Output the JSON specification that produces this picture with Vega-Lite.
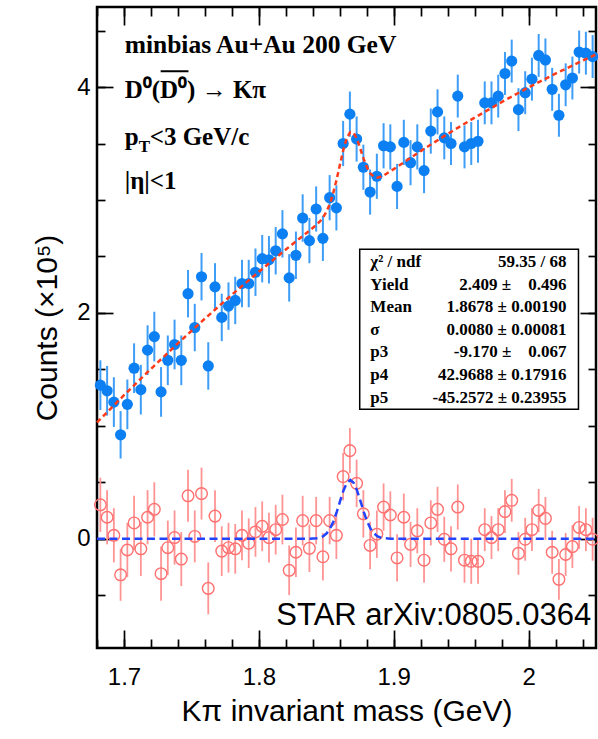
{
  "$schema": "https://vega.github.io/schema/vega-lite/v6.json",
  "width": 499,
  "height": 641,
  "autosize": {"type": "none"},
  "padding": {"left": 97, "top": 7, "right": 2, "bottom": 91},
  "background": "#ffffff",
  "config": {
    "view": {"stroke": "#000000", "strokeWidth": 2.5},
    "axis": {
      "grid": false,
      "domain": false,
      "tickColor": "#000000",
      "tickWidth": 1.7,
      "labelFont": "Liberation Sans",
      "labelFontSize": 24,
      "labelColor": "#000000",
      "labelFlush": false,
      "labelOverlap": false,
      "titleFont": "Liberation Sans",
      "titleFontWeight": "normal",
      "titleFontSize": 30,
      "titleColor": "#000000"
    }
  },
  "datasets": {
    "pts": [
      {"m": 1.6825, "b": 1.36, "eb": 0.22, "r": 0.30, "er": 0.24},
      {"m": 1.6875, "b": 1.31, "eb": 0.22, "r": 0.19, "er": 0.24},
      {"m": 1.6925, "b": 1.21, "eb": 0.22, "r": 0.03, "er": 0.24},
      {"m": 1.6975, "b": 0.92, "eb": 0.21, "r": -0.32, "er": 0.23},
      {"m": 1.7025, "b": 1.19, "eb": 0.22, "r": -0.10, "er": 0.24},
      {"m": 1.7075, "b": 1.51, "eb": 0.22, "r": 0.14, "er": 0.24},
      {"m": 1.7125, "b": 1.32, "eb": 0.22, "r": -0.09, "er": 0.24},
      {"m": 1.7175, "b": 1.67, "eb": 0.22, "r": 0.19, "er": 0.24},
      {"m": 1.7225, "b": 1.79, "eb": 0.22, "r": 0.26, "er": 0.24},
      {"m": 1.7275, "b": 1.30, "eb": 0.22, "r": -0.31, "er": 0.24},
      {"m": 1.7325, "b": 1.58, "eb": 0.22, "r": -0.08, "er": 0.24},
      {"m": 1.7375, "b": 1.72, "eb": 0.22, "r": 0.01, "er": 0.24},
      {"m": 1.7425, "b": 1.58, "eb": 0.22, "r": -0.18, "er": 0.24},
      {"m": 1.7475, "b": 2.17, "eb": 0.21, "r": 0.38, "er": 0.23},
      {"m": 1.7525, "b": 1.87, "eb": 0.21, "r": 0.02, "er": 0.23},
      {"m": 1.7575, "b": 2.32, "eb": 0.21, "r": 0.40, "er": 0.23},
      {"m": 1.7625, "b": 1.53, "eb": 0.21, "r": -0.44, "er": 0.23},
      {"m": 1.7675, "b": 2.23, "eb": 0.21, "r": 0.20, "er": 0.23},
      {"m": 1.7725, "b": 1.96, "eb": 0.21, "r": -0.11, "er": 0.22},
      {"m": 1.7775, "b": 2.06, "eb": 0.21, "r": -0.08, "er": 0.22},
      {"m": 1.7825, "b": 2.11, "eb": 0.21, "r": -0.09, "er": 0.22},
      {"m": 1.7875, "b": 2.26, "eb": 0.21, "r": 0.03, "er": 0.22},
      {"m": 1.7925, "b": 2.26, "eb": 0.21, "r": -0.04, "er": 0.22},
      {"m": 1.7975, "b": 2.36, "eb": 0.21, "r": 0.06, "er": 0.22},
      {"m": 1.8025, "b": 2.48, "eb": 0.21, "r": 0.11, "er": 0.22},
      {"m": 1.8075, "b": 2.47, "eb": 0.21, "r": 0.01, "er": 0.22},
      {"m": 1.8125, "b": 2.55, "eb": 0.21, "r": 0.08, "er": 0.22},
      {"m": 1.8175, "b": 2.70, "eb": 0.21, "r": 0.17, "er": 0.22},
      {"m": 1.8225, "b": 2.31, "eb": 0.21, "r": -0.28, "er": 0.22},
      {"m": 1.8275, "b": 2.51, "eb": 0.21, "r": -0.12, "er": 0.22},
      {"m": 1.8325, "b": 2.84, "eb": 0.21, "r": 0.16, "er": 0.22},
      {"m": 1.8375, "b": 2.64, "eb": 0.20, "r": -0.085, "er": 0.21},
      {"m": 1.8425, "b": 2.92, "eb": 0.20, "r": 0.16, "er": 0.21},
      {"m": 1.8475, "b": 2.66, "eb": 0.20, "r": -0.16, "er": 0.21},
      {"m": 1.8525, "b": 3.02, "eb": 0.20, "r": 0.16, "er": 0.21},
      {"m": 1.8575, "b": 2.93, "eb": 0.20, "r": 0.03, "er": 0.21},
      {"m": 1.8625, "b": 3.50, "eb": 0.20, "r": 0.55, "er": 0.21},
      {"m": 1.8675, "b": 3.76, "eb": 0.20, "r": 0.78, "er": 0.20},
      {"m": 1.8725, "b": 3.54, "eb": 0.20, "r": 0.49, "er": 0.21},
      {"m": 1.8775, "b": 3.29, "eb": 0.20, "r": 0.22, "er": 0.21},
      {"m": 1.8825, "b": 3.07, "eb": 0.20, "r": -0.06, "er": 0.21},
      {"m": 1.8875, "b": 3.21, "eb": 0.20, "r": 0.04, "er": 0.21},
      {"m": 1.8925, "b": 3.48, "eb": 0.20, "r": 0.28, "er": 0.21},
      {"m": 1.8975, "b": 3.47, "eb": 0.20, "r": 0.21, "er": 0.21},
      {"m": 1.9025, "b": 3.12, "eb": 0.20, "r": -0.17, "er": 0.21},
      {"m": 1.9075, "b": 3.51, "eb": 0.20, "r": 0.19, "er": 0.21},
      {"m": 1.9125, "b": 3.33, "eb": 0.20, "r": -0.05, "er": 0.20},
      {"m": 1.9175, "b": 3.47, "eb": 0.20, "r": 0.07, "er": 0.20},
      {"m": 1.9225, "b": 3.26, "eb": 0.20, "r": -0.19, "er": 0.20},
      {"m": 1.9275, "b": 3.61, "eb": 0.20, "r": 0.14, "er": 0.20},
      {"m": 1.9325, "b": 3.78, "eb": 0.20, "r": 0.26, "er": 0.20},
      {"m": 1.9375, "b": 3.55, "eb": 0.19, "r": -0.005, "er": 0.20},
      {"m": 1.9425, "b": 3.50, "eb": 0.19, "r": -0.09, "er": 0.20},
      {"m": 1.9475, "b": 3.92, "eb": 0.19, "r": 0.28, "er": 0.20},
      {"m": 1.9525, "b": 3.47, "eb": 0.19, "r": -0.19, "er": 0.20},
      {"m": 1.9575, "b": 3.50, "eb": 0.19, "r": -0.20, "er": 0.20},
      {"m": 1.9625, "b": 3.52, "eb": 0.19, "r": -0.20, "er": 0.20},
      {"m": 1.9675, "b": 3.86, "eb": 0.19, "r": 0.08, "er": 0.19},
      {"m": 1.9725, "b": 3.86, "eb": 0.19, "r": 0.01, "er": 0.19},
      {"m": 1.9775, "b": 3.92, "eb": 0.19, "r": 0.08, "er": 0.19},
      {"m": 1.9825, "b": 4.12, "eb": 0.19, "r": 0.24, "er": 0.19},
      {"m": 1.9875, "b": 4.23, "eb": 0.19, "r": 0.34, "er": 0.19},
      {"m": 1.9925, "b": 3.80, "eb": 0.19, "r": -0.13, "er": 0.19},
      {"m": 1.9975, "b": 3.95, "eb": 0.19, "r": -0.005, "er": 0.19},
      {"m": 2.0025, "b": 4.07, "eb": 0.19, "r": 0.08, "er": 0.19},
      {"m": 2.0075, "b": 4.28, "eb": 0.19, "r": 0.25, "er": 0.19},
      {"m": 2.0125, "b": 4.24, "eb": 0.19, "r": 0.18, "er": 0.19},
      {"m": 2.0175, "b": 3.98, "eb": 0.19, "r": -0.12, "er": 0.19},
      {"m": 2.0225, "b": 3.75, "eb": 0.19, "r": -0.36, "er": 0.18},
      {"m": 2.0275, "b": 4.02, "eb": 0.19, "r": -0.14, "er": 0.19},
      {"m": 2.0325, "b": 4.08, "eb": 0.19, "r": -0.07, "er": 0.19},
      {"m": 2.0375, "b": 4.31, "eb": 0.19, "r": 0.10, "er": 0.19},
      {"m": 2.0425, "b": 4.30, "eb": 0.19, "r": 0.08, "er": 0.19},
      {"m": 2.0475, "b": 4.27, "eb": 0.19, "r": -0.005, "er": 0.19}
    ],
    "fitTotal": [
      {"m": 1.68, "v": 1.030},
      {"m": 1.70, "v": 1.271},
      {"m": 1.72, "v": 1.504},
      {"m": 1.74, "v": 1.730},
      {"m": 1.76, "v": 1.949},
      {"m": 1.78, "v": 2.161},
      {"m": 1.80, "v": 2.364},
      {"m": 1.82, "v": 2.561},
      {"m": 1.83, "v": 2.657},
      {"m": 1.8378, "v": 2.730},
      {"m": 1.8428, "v": 2.781},
      {"m": 1.8453, "v": 2.811},
      {"m": 1.8478, "v": 2.848},
      {"m": 1.8503, "v": 2.900},
      {"m": 1.8528, "v": 2.970},
      {"m": 1.8553, "v": 3.067},
      {"m": 1.8578, "v": 3.187},
      {"m": 1.8603, "v": 3.321},
      {"m": 1.8628, "v": 3.451},
      {"m": 1.8653, "v": 3.550},
      {"m": 1.8678, "v": 3.601},
      {"m": 1.8703, "v": 3.594},
      {"m": 1.8728, "v": 3.538},
      {"m": 1.8753, "v": 3.452},
      {"m": 1.8778, "v": 3.362},
      {"m": 1.8803, "v": 3.286},
      {"m": 1.8828, "v": 3.233},
      {"m": 1.8853, "v": 3.206},
      {"m": 1.8878, "v": 3.198},
      {"m": 1.8903, "v": 3.205},
      {"m": 1.8928, "v": 3.219},
      {"m": 1.90, "v": 3.273},
      {"m": 1.92, "v": 3.433},
      {"m": 1.94, "v": 3.585},
      {"m": 1.96, "v": 3.729},
      {"m": 1.98, "v": 3.867},
      {"m": 2.00, "v": 3.997},
      {"m": 2.02, "v": 4.119},
      {"m": 2.04, "v": 4.234},
      {"m": 2.05, "v": 4.289}
    ],
    "fitSignal": [
      {"m": 1.68, "v": 0},
      {"m": 1.8378, "v": 0},
      {"m": 1.8428, "v": 0.004},
      {"m": 1.8453, "v": 0.010},
      {"m": 1.8478, "v": 0.023},
      {"m": 1.8503, "v": 0.048},
      {"m": 1.8528, "v": 0.089},
      {"m": 1.8553, "v": 0.153},
      {"m": 1.8578, "v": 0.238},
      {"m": 1.8603, "v": 0.335},
      {"m": 1.8628, "v": 0.428},
      {"m": 1.8653, "v": 0.495},
      {"m": 1.8678, "v": 0.520},
      {"m": 1.8703, "v": 0.495},
      {"m": 1.8728, "v": 0.428},
      {"m": 1.8753, "v": 0.335},
      {"m": 1.8778, "v": 0.238},
      {"m": 1.8803, "v": 0.153},
      {"m": 1.8828, "v": 0.089},
      {"m": 1.8853, "v": 0.048},
      {"m": 1.8878, "v": 0.023},
      {"m": 1.8903, "v": 0.010},
      {"m": 1.8928, "v": 0.004},
      {"m": 1.8978, "v": 0},
      {"m": 2.05, "v": 0}
    ],
    "one": [{}]
  },
  "layer": [
    {
      "data": {"name": "pts"},
      "mark": {"type": "errorbar", "color": "#ff9494", "thickness": 1.8},
      "encoding": {
        "x": {"field": "m", "type": "quantitative", "axis": null, "scale": {"domain": [1.68, 2.05], "nice": false, "zero": false}},
        "y": {"field": "r", "type": "quantitative", "axis": null, "scale": {"domain": [-0.968, 4.709], "nice": false, "zero": false}},
        "yError": {"field": "er"}
      }
    },
    {
      "data": {"name": "pts"},
      "mark": {"type": "point", "shape": "circle", "filled": false, "stroke": "#ff7070", "strokeWidth": 1.4, "size": 135, "opacity": 1},
      "encoding": {
        "x": {"field": "m", "type": "quantitative", "axis": {"orient": "bottom", "values": [1.7, 1.8, 1.9, 2.0], "format": "~g", "offset": -18, "tickSize": 18, "labelPadding": 17, "title": "Kπ invariant mass (GeV)", "titlePadding": 7}},
        "y": {"field": "r", "type": "quantitative", "axis": {"orient": "left", "values": [0, 2, 4], "format": "~g", "offset": -16, "tickSize": 16, "labelPadding": 7, "title": "Counts (×10⁵)", "titlePadding": 14}}
      }
    },
    {
      "data": {"name": "pts"},
      "mark": {"type": "errorbar", "color": "#3d9df7", "thickness": 2},
      "encoding": {
        "x": {"field": "m", "type": "quantitative", "axis": null},
        "y": {"field": "b", "type": "quantitative", "axis": null},
        "yError": {"field": "eb"}
      }
    },
    {
      "data": {"name": "pts"},
      "mark": {"type": "point", "shape": "circle", "filled": true, "color": "#0c80f2", "size": 125, "opacity": 1},
      "encoding": {
        "x": {"field": "m", "type": "quantitative", "axis": {"orient": "bottom", "values": [1.68, 1.7, 1.72, 1.74, 1.76, 1.78, 1.8, 1.82, 1.84, 1.86, 1.88, 1.9, 1.92, 1.94, 1.96, 1.98, 2.0, 2.02, 2.04], "offset": -9, "tickSize": 9, "labels": false, "title": null}},
        "y": {"field": "b", "type": "quantitative", "axis": {"orient": "left", "values": [-0.5, 0, 0.5, 1, 1.5, 2, 2.5, 3, 3.5, 4, 4.5], "offset": -8, "tickSize": 8, "labels": false, "title": null}}
      }
    },
    {
      "data": {"name": "fitTotal"},
      "mark": {"type": "line", "color": "#ff3a1a", "strokeWidth": 2.5, "strokeDash": [5, 3.5]},
      "encoding": {
        "x": {"field": "m", "type": "quantitative", "axis": {"orient": "top", "values": [1.7, 1.8, 1.9, 2.0], "offset": -18, "tickSize": 18, "labels": false, "title": null}},
        "y": {"field": "v", "type": "quantitative", "axis": {"orient": "right", "values": [0, 2, 4], "offset": -16, "tickSize": 16, "labels": false, "title": null}}
      }
    },
    {
      "data": {"name": "fitSignal"},
      "mark": {"type": "line", "color": "#2244ff", "strokeWidth": 2.5, "strokeDash": [8, 4.5]},
      "encoding": {
        "x": {"field": "m", "type": "quantitative", "axis": {"orient": "top", "values": [1.68, 1.7, 1.72, 1.74, 1.76, 1.78, 1.8, 1.82, 1.84, 1.86, 1.88, 1.9, 1.92, 1.94, 1.96, 1.98, 2.0, 2.02, 2.04], "offset": -9, "tickSize": 9, "labels": false, "title": null}},
        "y": {"field": "v", "type": "quantitative", "axis": {"orient": "right", "values": [-0.5, 0, 0.5, 1, 1.5, 2, 2.5, 3, 3.5, 4, 4.5], "offset": -8, "tickSize": 8, "labels": false, "title": null}}
      }
    },
    {
      "data": {"name": "one"},
      "mark": {"type": "rect", "fill": "#ffffff", "stroke": "#000000", "strokeWidth": 1.5},
      "encoding": {
        "x": {"datum": 1.8748, "type": "quantitative", "axis": null},
        "x2": {"datum": 2.037},
        "y": {"datum": 2.5633, "type": "quantitative", "axis": null},
        "y2": {"datum": 1.1461}
      }
    },
    {
      "data": {"name": "one"},
      "mark": {"type": "text", "text": ["χ² / ndf", "Yield", "Mean", "σ", "p3", "p4", "p5"], "align": "left", "baseline": "alphabetic", "font": "Liberation Serif", "fontWeight": "bold", "fontSize": 17, "lineHeight": 22.6, "color": "#000000"},
      "encoding": {
        "x": {"datum": 1.8827, "type": "quantitative", "axis": null},
        "y": {"datum": 2.4066, "type": "quantitative", "axis": null}
      }
    },
    {
      "data": {"name": "one"},
      "mark": {"type": "text", "text": ["59.35 / 68", "2.409 ±\u00a0\u00a0\u00a0\u00a00.496", "1.8678 ± 0.00190", "0.0080 ± 0.00081", "-9.170 ±\u00a0\u00a0\u00a0\u00a00.067", "42.9688 ± 0.17916", "-45.2572 ± 0.23955"], "align": "right", "baseline": "alphabetic", "font": "Liberation Serif", "fontWeight": "bold", "fontSize": 17, "lineHeight": 22.6, "color": "#000000"},
      "encoding": {
        "x": {"datum": 2.0281, "type": "quantitative", "axis": null},
        "y": {"datum": 2.4066, "type": "quantitative", "axis": null}
      }
    },
    {
      "data": {"name": "one"},
      "mark": {"type": "text", "text": "minbias Au+Au 200 GeV", "align": "left", "baseline": "alphabetic", "font": "Liberation Serif", "fontWeight": "bold", "fontSize": 25.5, "color": "#000000"},
      "encoding": {
        "x": {"datum": 1.7005, "type": "quantitative", "axis": null},
        "y": {"datum": 4.30, "type": "quantitative", "axis": null}
      }
    },
    {
      "data": {"name": "one"},
      "mark": {"type": "text", "text": "D⁰(D⁰) → Kπ", "align": "left", "baseline": "alphabetic", "font": "Liberation Serif", "fontWeight": "bold", "fontSize": 25, "color": "#000000"},
      "encoding": {
        "x": {"datum": 1.7005, "type": "quantitative", "axis": null},
        "y": {"datum": 3.903, "type": "quantitative", "axis": null}
      }
    },
    {
      "data": {"name": "one"},
      "mark": {"type": "rule", "color": "#000000", "strokeWidth": 2},
      "encoding": {
        "x": {"datum": 1.7272, "type": "quantitative", "axis": null},
        "x2": {"datum": 1.7478},
        "y": {"datum": 4.14, "type": "quantitative", "axis": null}
      }
    },
    {
      "data": {"name": "one"},
      "mark": {"type": "text", "text": "p", "align": "left", "baseline": "alphabetic", "font": "Liberation Serif", "fontWeight": "bold", "fontSize": 25, "color": "#000000"},
      "encoding": {
        "x": {"datum": 1.7005, "type": "quantitative", "axis": null},
        "y": {"datum": 3.486, "type": "quantitative", "axis": null}
      }
    },
    {
      "data": {"name": "one"},
      "mark": {"type": "text", "text": "T", "align": "left", "baseline": "alphabetic", "font": "Liberation Serif", "fontWeight": "bold", "fontSize": 17, "dx": 14, "dy": 7, "color": "#000000"},
      "encoding": {
        "x": {"datum": 1.7005, "type": "quantitative", "axis": null},
        "y": {"datum": 3.486, "type": "quantitative", "axis": null}
      }
    },
    {
      "data": {"name": "one"},
      "mark": {"type": "text", "text": "<3 GeV/c", "align": "left", "baseline": "alphabetic", "font": "Liberation Serif", "fontWeight": "bold", "fontSize": 25, "dx": 25, "color": "#000000"},
      "encoding": {
        "x": {"datum": 1.7005, "type": "quantitative", "axis": null},
        "y": {"datum": 3.486, "type": "quantitative", "axis": null}
      }
    },
    {
      "data": {"name": "one"},
      "mark": {"type": "text", "text": "|η|<1", "align": "left", "baseline": "alphabetic", "font": "Liberation Serif", "fontWeight": "bold", "fontSize": 25, "color": "#000000"},
      "encoding": {
        "x": {"datum": 1.7005, "type": "quantitative", "axis": null},
        "y": {"datum": 3.097, "type": "quantitative", "axis": null}
      }
    },
    {
      "data": {"name": "one"},
      "mark": {"type": "text", "text": "STAR arXiv:0805.0364", "align": "right", "baseline": "alphabetic", "font": "Liberation Sans", "fontSize": 31, "color": "#000000"},
      "encoding": {
        "x": {"datum": 2.0464, "type": "quantitative", "axis": null},
        "y": {"datum": -0.764, "type": "quantitative", "axis": null}
      }
    }
  ],
  "resolve": {"axis": {"x": "independent", "y": "independent"}}
}
